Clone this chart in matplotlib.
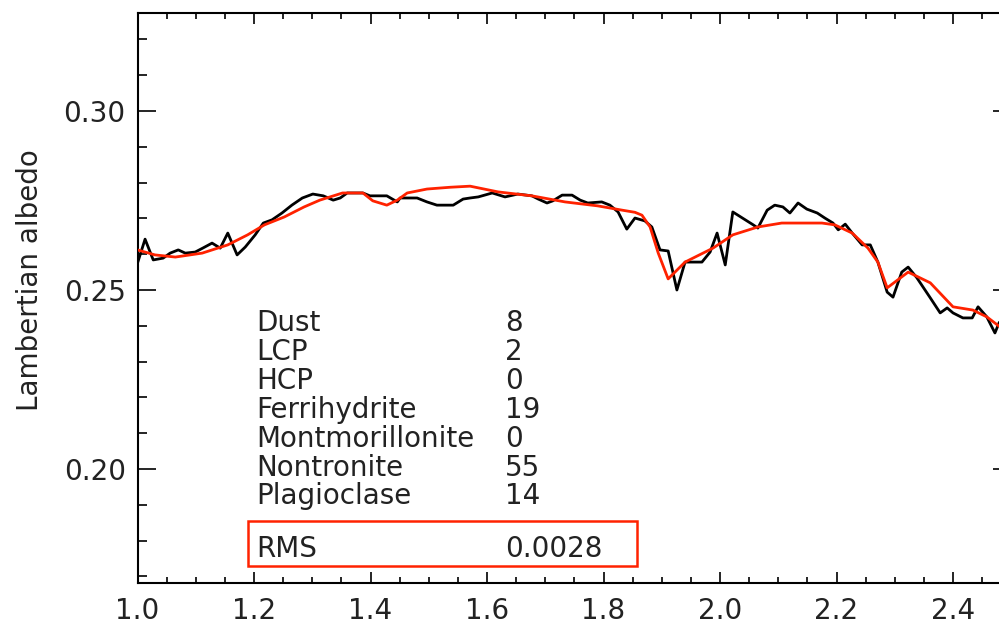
import matplotlib
matplotlib.use("Agg")
import matplotlib.pyplot as plt
from matplotlib.patches import Rectangle
from matplotlib.ticker import MultipleLocator

# ---------------- data ----------------
obs_x = [1.000, 1.013, 1.027, 1.044, 1.056, 1.070, 1.082, 1.099, 1.112, 1.128,
         1.142, 1.155, 1.171, 1.185, 1.202, 1.216, 1.231, 1.248, 1.265, 1.283,
         1.301, 1.319, 1.336, 1.348, 1.360, 1.387, 1.399, 1.428, 1.446, 1.451,
         1.480, 1.497, 1.514, 1.542, 1.559, 1.571, 1.585, 1.609, 1.631, 1.653,
         1.677, 1.688, 1.703, 1.713, 1.729, 1.746, 1.760, 1.773, 1.797, 1.811,
         1.825, 1.840, 1.854, 1.871, 1.883, 1.897, 1.911, 1.926, 1.940, 1.969,
         1.983, 1.995, 2.009, 2.022, 2.057, 2.065, 2.081, 2.094, 2.108, 2.120,
         2.134, 2.149, 2.167, 2.180, 2.194, 2.203, 2.215, 2.227, 2.244, 2.258,
         2.271, 2.287, 2.297, 2.312, 2.323, 2.338, 2.361, 2.378, 2.390, 2.400,
         2.417, 2.433, 2.443, 2.458, 2.472, 2.479]
obs_y = [0.2575, 0.2642, 0.2584, 0.2589, 0.2603, 0.2612, 0.2603, 0.2606, 0.2617, 0.2631,
         0.2617, 0.2659, 0.2598, 0.2620, 0.2654, 0.2687, 0.2696, 0.2715, 0.2737, 0.2757,
         0.2768, 0.2763, 0.2751, 0.2757, 0.2771, 0.2771, 0.2763, 0.2763, 0.2746, 0.2757,
         0.2757, 0.2746, 0.2737, 0.2737, 0.2754, 0.2757, 0.2760, 0.2771, 0.2760, 0.2768,
         0.2763, 0.2754, 0.2743, 0.2749, 0.2765, 0.2765, 0.2751, 0.2743, 0.2746, 0.2737,
         0.2718, 0.2670, 0.2701, 0.2693, 0.2676, 0.2612, 0.2609, 0.2500, 0.2578, 0.2578,
         0.2606, 0.2659, 0.2570, 0.2718, 0.2682, 0.2673, 0.2723, 0.2737, 0.2732, 0.2715,
         0.2743, 0.2726, 0.2715, 0.2701, 0.2687, 0.2668, 0.2684, 0.2659, 0.2626, 0.2626,
         0.2578, 0.2494, 0.2480, 0.2550, 0.2564, 0.2534, 0.2478, 0.2436, 0.2450, 0.2436,
         0.2422, 0.2422, 0.2453, 0.2425, 0.2380, 0.2408]

model_x = [1.000, 1.030, 1.065, 1.111, 1.155, 1.189, 1.218, 1.252, 1.286, 1.313,
           1.352, 1.387, 1.404, 1.428, 1.446, 1.463, 1.497, 1.537, 1.571, 1.619,
           1.677, 1.734, 1.790, 1.832, 1.854, 1.866, 1.880, 1.894, 1.911, 1.940,
           1.988, 2.022, 2.065, 2.106, 2.175, 2.197, 2.227, 2.254, 2.271, 2.287,
           2.323, 2.361, 2.400, 2.434, 2.458, 2.479]
model_y = [0.2612, 0.2598, 0.2592, 0.2603, 0.2626, 0.2654, 0.2682, 0.2704, 0.2732, 0.2751,
           0.2771, 0.2771, 0.2749, 0.2737, 0.2751, 0.2771, 0.2782, 0.2787, 0.2790, 0.2774,
           0.2763, 0.2746, 0.2735, 0.2723, 0.2717, 0.2709, 0.2676, 0.2603, 0.2531, 0.2578,
           0.2617, 0.2654, 0.2676, 0.2687, 0.2687, 0.2682, 0.2659, 0.2617, 0.2578, 0.2506,
           0.2550, 0.2520, 0.2453, 0.2444, 0.2425, 0.2399]

minerals = ["Dust", "LCP", "HCP", "Ferrihydrite", "Montmorillonite", "Nontronite", "Plagioclase"]
abundances = ["8", "2", "0", "19", "0", "55", "14"]
rms_label = "RMS"
rms_value = "0.0028"

x_ticks = [1.0, 1.2, 1.4, 1.6, 1.8, 2.0, 2.2, 2.4]
y_ticks = [0.20, 0.25, 0.30]

# ---------------- figure ----------------
plt.rcParams['font.family'] = ['DejaVu Sans']
FS = 20
RED = '#ff2200'
TXT = '#222222'

W, H = 999, 630
fig = plt.figure(figsize=(W / 100, H / 100), dpi=100)
left_px, right_px, top_px, bot_px = 137.5, 1011.25, 13, 583
ax = fig.add_axes([left_px / W, (H - bot_px) / H,
                   (right_px - left_px) / W, (bot_px - top_px) / H])

ax.plot(obs_x, obs_y, color='black', lw=2.0, zorder=3)
ax.plot(model_x, model_y, color=RED, lw=2.0, zorder=4)

ax.set_xlim(1.0, 2.5)
ax.set_ylim(0.16816, 0.32737)

ax.set_xticks(x_ticks)
ax.set_xticklabels([f"{v:.1f}" for v in x_ticks])
ax.set_yticks(y_ticks)
ax.set_yticklabels([f"{v:.2f}" for v in y_ticks])
ax.xaxis.set_minor_locator(MultipleLocator(0.05))
ax.yaxis.set_minor_locator(MultipleLocator(0.01))

ax.tick_params(axis='x', which='major', direction='in', length=8, width=1.2,
               top=True, bottom=True, labelsize=FS, pad=10, labelcolor=TXT)
ax.tick_params(axis='x', which='minor', direction='in', length=4.3, width=1.2,
               top=True, bottom=True)
ax.tick_params(axis='y', which='major', direction='in', length=13, width=1.2,
               left=True, right=True, labelsize=FS, pad=8.5, labelcolor=TXT)
ax.tick_params(axis='y', which='minor', direction='in', length=6.5, width=1.2,
               left=True, right=True)
for sp in ax.spines.values():
    sp.set_linewidth(1.5)

fig.text(30 / W, 1 - 280 / H, "Lambertian albedo", rotation=90, fontsize=FS,
         ha='center', va='center', color=TXT)

# text block (data coordinates)
label_x = 1.2034
value_x = 1.631
base_y = [0.2385, 0.2304, 0.2223, 0.2142, 0.2061, 0.1980, 0.1902]
for name, val, yy in zip(minerals, abundances, base_y):
    ax.text(label_x, yy, name, fontsize=FS, ha='left', va='baseline', color=TXT)
    ax.text(value_x, yy, val, fontsize=FS, ha='left', va='baseline', color=TXT)
ax.text(label_x, 0.1754, rms_label, fontsize=FS, ha='left', va='baseline', color=TXT)
ax.text(value_x, 0.1754, rms_value, fontsize=FS, ha='left', va='baseline', color=TXT)

ax.add_patch(Rectangle((1.1897, 0.1729), 1.8575 - 1.1897, 0.1855 - 0.1729,
                       fill=False, edgecolor=RED, lw=1.8, zorder=5))

fig.savefig("out.png", dpi=100)
